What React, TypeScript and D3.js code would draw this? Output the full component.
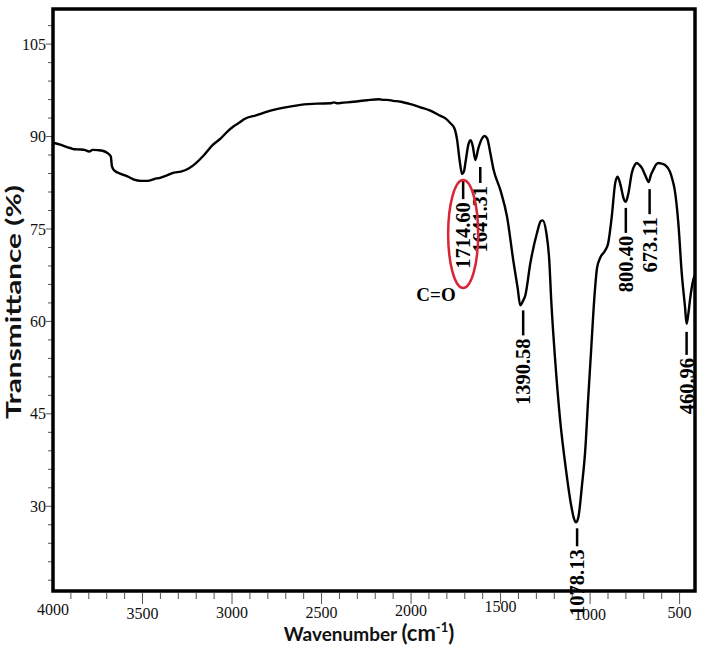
import React from "react";
import * as d3 from "d3";

// ---------- data ----------
const wavenumbers = [
  4000, 3960, 3937, 3900, 3881, 3850, 3825, 3798, 3779, 3750, 3723, 3695, 3677, 3671, 3658, 3621,
  3574, 3547, 3509, 3472, 3435, 3398, 3360, 3324, 3286, 3240, 3203, 3156, 3109, 3063, 3026, 2989,
  2952, 2933, 2858, 2803, 2710, 2617, 2524, 2450, 2431, 2410, 2394, 2320, 2245, 2180, 2150, 2133,
  2100, 2059, 2003, 1948, 1892, 1836, 1808, 1780, 1758, 1743, 1729, 1715, 1705, 1695, 1680, 1667,
  1655, 1641, 1625, 1605, 1590, 1575, 1557, 1539, 1501, 1464, 1427, 1405, 1390, 1375, 1362, 1334,
  1297, 1275, 1265, 1245, 1228, 1217, 1195, 1167, 1134, 1106, 1090, 1078, 1065, 1046, 1027, 1011,
  994, 977, 961, 944, 916, 899, 879, 860, 847, 835, 828, 812, 800, 786, 767, 750, 739, 725, 711,
  690, 673, 660, 647, 630, 619, 600, 582, 554, 540, 527, 507, 488, 470, 461, 450, 442, 424, 415,
];
const transmittance = [
  89.0, 88.7, 88.45, 88.1, 87.95, 87.9, 87.84, 87.57, 87.84, 87.8, 87.7, 87.3, 86.75, 85.2, 84.5, 83.95,
  83.4, 83.0, 82.8, 82.8, 83.1, 83.35, 83.75, 84.15, 84.3, 84.85, 85.65, 87.0, 88.6, 89.7, 90.8, 91.7,
  92.4, 92.8, 93.5, 94.05, 94.7, 95.15, 95.35, 95.4, 95.55, 95.4, 95.45, 95.65, 95.9, 96.05, 95.95, 95.95,
  95.8, 95.65, 95.25, 94.75, 94.2, 93.35, 92.95, 92.15, 91.35, 89.5, 86.2, 83.9, 84.3, 86.0, 88.7, 89.4,
  88.4, 86.2, 88.0, 89.6, 90.1, 89.7, 87.3, 84.6, 81.3, 77.0, 69.5, 65.5, 62.6, 63.3, 64.2, 69.4,
  74.3, 76.3, 76.4, 74.5, 69.9, 63.4, 53.7, 43.9, 35.8, 30.2, 28.0, 27.4, 28.3, 33.2, 39.1, 47.3,
  55.4, 63.5, 68.7, 70.3, 71.5, 72.7, 77.0, 82.4, 83.5, 82.7, 81.9, 79.9, 79.4, 80.8, 84.1, 85.4, 85.7, 85.4, 84.9,
  83.6, 82.6, 83.8, 84.6, 85.5, 85.7, 85.6, 85.4, 84.3, 83.0, 81.3, 75.9, 67.8, 62.4, 59.6, 61.5, 63.5, 66.7, 67.5,
];

const xTickLabels = [4000, 3500, 3000, 2500, 2000, 1500, 1000, 500];
const yTickLabels = [30, 45, 60, 75, 90, 105];

const peakLabels = ["1714.60", "1641.31", "1390.58", "1078.13", "800.40", "673.11", "460.96"];
const peakWavenumbers = [1714.6, 1641.31, 1390.58, 1078.13, 800.4, 673.11, 460.96];
const peakMinima = [83.9, 86.2, 62.6, 27.4, 79.4, 82.6, 59.6];

// ---------- layout (not data) ----------
const W = 704;
const H = 646;
const left = 53, right = 695, top = 9, bottom = 591;
const xLabelDy = [609, 613, 612, 612, 610, 606, 614, 612];
const peakDx = [1, 5, 3, 1, 0, 1, 0];
const peakGap = [5, 7, 5, 6, 6, 7, 8];
const peakLen = [20, 16, 25, 18, 25, 25, 23];

export default function App() {
  const x = d3.scaleLinear().domain([4000, 414]).range([left, right]);
  const y = d3.scaleLinear().domain([16.25, 110.7]).range([bottom, top]);

  const pts = wavenumbers.map((w, i) => [x(w), y(transmittance[i])] as [number, number]);
  const line = d3.line<[number, number]>().curve(d3.curveMonotoneX)(pts) || "";

  const yMinor = d3.range(18, 111, 3);
  const xMinor = d3.range(3900, 414, -100);

  const serif = "'Liberation Serif', 'Times New Roman', serif";
  const sans = "Lato, 'Open Sans', sans-serif";

  return (
    <svg width={W} height={H} style={{ position: "absolute", left: 0, top: 0, background: "#fff" }}>
      <defs>
        <clipPath id="plot">
          <rect x={left} y={top} width={right - left} height={bottom - top} />
        </clipPath>
      </defs>
      <rect x={0} y={0} width={W} height={H} fill="#fff" />

      {/* y ticks */}
      {yMinor.map((v) => {
        const major = v % 15 === 0;
        return (
          <line key={"yt" + v} x1={major ? 46 : 48} x2={52} y1={y(v)} y2={y(v)} stroke="#555" strokeWidth={1} />
        );
      })}
      {yTickLabels.map((v) => (
        <text key={"yl" + v} x={46} y={y(v)} dy="0.35em" textAnchor="end" fontFamily={serif} fontSize={16} fill="#111">
          {v}
        </text>
      ))}

      {/* x ticks */}
      {xMinor.map((w) => {
        const major = w % 500 === 0;
        return (
          <line key={"xt" + w} x1={x(w)} x2={x(w)} y1={593} y2={major ? 604 : 599} stroke="#555" strokeWidth={1} />
        );
      })}
      {xTickLabels.map((w, i) => (
        <text key={"xl" + w} x={x(w)} y={xLabelDy[i]} dy="0.35em" textAnchor="middle" fontFamily={serif} fontSize={16} fill="#111">
          {w}
        </text>
      ))}

      {/* spectrum */}
      <path d={line} fill="none" stroke="#000" strokeWidth={2.4} strokeLinejoin="round" clipPath="url(#plot)" />

      {/* peak annotations */}
      {peakLabels.map((lab, i) => {
        const px = x(peakWavenumbers[i]) + peakDx[i];
        const y0 = y(peakMinima[i]) + peakGap[i];
        const y1 = y0 + peakLen[i];
        return (
          <g key={"pk" + i}>
            <line x1={px} x2={px} y1={y0} y2={y1} stroke="#000" strokeWidth={2.5} />
            <text
              transform={`translate(${px},${y1 + 3}) rotate(-90)`}
              textAnchor="end"
              dy="0.35em"
              fontFamily={serif}
              fontWeight="bold"
              fontSize={20.5}
              fill="#000"
            >
              {lab}
            </text>
          </g>
        );
      })}

      {/* C=O highlight */}
      <ellipse
        cx={x(peakWavenumbers[0]) + 1}
        cy={234}
        rx={15}
        ry={54}
        fill="none"
        stroke="#d92535"
        strokeWidth={2.5}
      />
      <text x={436} y={294} dy="0.35em" textAnchor="middle" fontFamily={serif} fontWeight="bold" fontSize={19} fill="#000">
        C=O
      </text>

      {/* frame */}
      <rect x={left} y={top} width={right - left} height={bottom - top} fill="none" stroke="#000" strokeWidth={3.5} />

      {/* axis titles */}
      <text x={369} y={641} textAnchor="middle" fontFamily={sans} fontWeight="bold" fontSize={19} fill="#111">
        Wavenumber <tspan fontSize={22}>(cm</tspan>
        <tspan fontSize={13} dy={-9}>-1</tspan>
        <tspan fontSize={22} dy={9}>)</tspan>
      </text>
      <text
        transform={`translate(14,302) rotate(-90)`}
        textAnchor="middle"
        dy="0.35em"
        fontFamily={sans}
        fontWeight="bold"
        fontSize={21}
        textLength={234}
        lengthAdjust="spacingAndGlyphs"
        fill="#111"
      >
        Transmittance (%)
      </text>
    </svg>
  );
}
